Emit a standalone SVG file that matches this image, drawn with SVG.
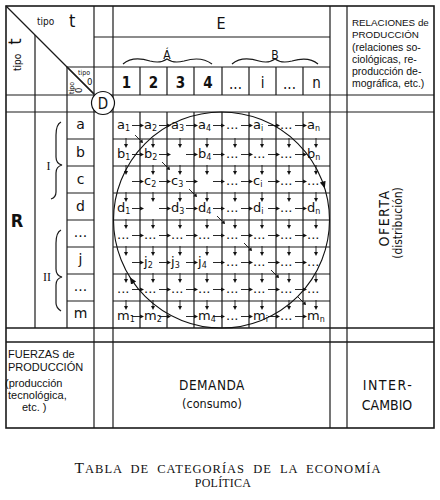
<svg xmlns="http://www.w3.org/2000/svg" xmlns:xlink="http://www.w3.org/1999/xlink" width="440" height="500" viewBox="0 0 440 500">
<style>
.ln{stroke:#1a1a1a;stroke-width:1.2;fill:none}
.ol{stroke:#1a1a1a;stroke-width:1.6;fill:none}
.t{font-family:"DejaVu Sans Condensed","DejaVu Sans",sans-serif;fill:#111}
.h{font-family:"Liberation Sans",Arial,sans-serif;fill:#111;font-size:10.5px}
.m{font-family:"DejaVu Sans","Liberation Sans",sans-serif;fill:#111;font-size:13px}
.s{font-size:8px}
.cap{font-family:"Liberation Serif","Times New Roman",serif;fill:#111}
</style>
<defs>
<g id="ra"><line x1="0" y1="0" x2="9" y2="0" stroke="#111" stroke-width="0.9"/><path d="M8,-2 L12,0 L8,2z" fill="#111"/></g>
<g id="da"><line x1="0" y1="0" x2="0" y2="7" stroke="#111" stroke-width="0.9"/><path d="M-2,6 L0,10 L2,6z" fill="#111"/></g>
<g id="dg"><line x1="0" y1="0" x2="5.5" y2="5.5" stroke="#111" stroke-width="0.9"/><path d="M4.2,7.3 L8,8 L7.3,4.2z" fill="#111"/></g>
<marker id="ch" markerWidth="8" markerHeight="8" refX="7" refY="4" orient="auto" markerUnits="userSpaceOnUse"><path d="M0,1 L7,4 L0,7z" fill="#111"/></marker>
</defs>

<g id="grid">
<rect class="ol" x="6" y="6" width="428" height="422"/>
<line class="ln" x1="6" y1="6" x2="94" y2="94"/>
<line class="ln" x1="94" y1="6" x2="94" y2="428"/>
<line class="ln" x1="113" y1="6" x2="113" y2="428"/>
<line class="ln" x1="330" y1="6" x2="330" y2="428"/>
<line class="ln" x1="347" y1="6" x2="347" y2="428"/>
<line class="ln" x1="35" y1="35" x2="35" y2="328"/>
<line class="ln" x1="67" y1="67" x2="67" y2="328"/>
<line class="ln" x1="94" y1="37" x2="330" y2="37"/>
<line class="ln" x1="67" y1="67" x2="330" y2="67"/>
<line class="ln" x1="6" y1="95" x2="434" y2="95"/>
<line class="ln" x1="6" y1="112" x2="434" y2="112"/>
<line class="ol" x1="6" y1="328" x2="434" y2="328"/>
<line class="ol" x1="6" y1="342" x2="434" y2="342"/>
<path class="ln" d="M140,67V95M167,67V95M194,67V95M222,67V95M249,67V95M276,67V95M303,67V95"/>
<path class="ln" d="M140,112V328M167,112V328M194,112V328M222,112V328M249,112V328M276,112V328M303,112V328"/>
<path class="ln" d="M67,139H94M67,166H94M67,193H94M67,220H94M67,247H94M67,274H94M67,301H94"/>
<path class="ln" d="M113,139H330M113,166H330M113,193H330M113,220H330M113,247H330M113,274H330M113,301H330"/>
</g>

<g id="tipo-t">
<text class="t" x="37" y="25" font-size="10">tipo</text>
<text class="t" x="69" y="27" font-size="18">t</text>
<text class="t" transform="translate(21,71) rotate(-90)" font-size="10">tipo<tspan font-size="18" dx="9">t</tspan></text>
</g>
<g id="tipo-0">
<line class="ln" x1="67" y1="67" x2="94" y2="94"/>
<text class="t" x="78" y="75" font-size="7">tipo</text>
<text class="t" x="87" y="85" font-size="9.5">0</text>
<text class="t" transform="translate(74,94) rotate(-90)" font-size="7">tipo</text>
<text class="t" transform="translate(82,93) rotate(-90)" font-size="9.5">0</text>
</g>
<g id="node-D">
<circle cx="103" cy="103" r="11.5" fill="#fff" stroke="#111" stroke-width="1.2"/>
<text class="t" x="103" y="109" font-size="15" text-anchor="middle">D</text>
</g>

<g id="node-E">
<text class="t" x="221" y="29" font-size="16" text-anchor="middle">E</text>
<path class="ln" d="M123,64 C130,58 140,58 150,61 C158,63 163,62 167,59 C171,62 176,63 184,61 C194,58 204,58 212,64"/>
<text class="t" x="167" y="59" font-size="12" text-anchor="middle">Á</text>
<path class="ln" d="M232,64 C239,58 249,58 259,61 C266,63 271,62 275,59 C279,62 284,63 292,61 C302,58 311,58 318,64"/>
<text class="t" x="275" y="59" font-size="12" text-anchor="middle">B</text>
<g class="t" font-size="15" text-anchor="middle">
<text x="126.5" y="88" font-weight="bold">1</text>
<text x="153.5" y="88" font-weight="bold">2</text>
<text x="180.5" y="88" font-weight="bold">3</text>
<text x="208" y="88" font-weight="bold">4</text>
<text x="235.5" y="89">...</text>
<text x="262.5" y="88">i</text>
<text x="289.5" y="89">...</text>
<text x="316.5" y="88">n</text>
</g>
</g>

<g id="node-relaciones" class="h">
<text x="352" y="26" font-size="9.8">RELACIONES de</text>
<text x="352" y="38" font-size="9.8">PRODUCCIÓN</text>
<text x="352" y="51">(relaciones so-</text>
<text x="352" y="63">ciológicas, re-</text>
<text x="352" y="75">producción de-</text>
<text x="352" y="87">mográfica, etc.)</text>
</g>

<g id="node-R">
<text class="t" x="17" y="227" font-size="18" font-weight="bold" text-anchor="middle">R</text>
<text class="cap" x="48.5" y="170" font-size="12" text-anchor="middle">I</text>
<path class="ln" d="M61,122 C57,124 56,128 56,135 L56,157 C56,162 58,164 62,165 C58,166 56,168 56,173 L56,192 C56,196 54,198 51,199"/>
<text class="cap" x="47" y="281" font-size="12" text-anchor="middle">II</text>
<path class="ln" d="M61,230 C57,232 56,236 56,243 L56,269 C56,274 58,276 62,277 C58,278 56,280 56,285 L56,303 C56,307 58,309 61,311"/>
</g>

<g id="row-labels" class="m" text-anchor="middle">
<text x="80.5" y="129" font-size="14">a</text>
<text x="80.5" y="157" font-size="14">b</text>
<text x="80.5" y="184" font-size="14">c</text>
<text x="80.5" y="211" font-size="14">d</text>
<text x="80.5" y="237" font-size="14">...</text>
<text x="80.5" y="264" font-size="14">j</text>
<text x="80.5" y="291" font-size="14">...</text>
<text x="80.5" y="318" font-size="14">m</text>
</g>

<g id="matrix" class="m">
<text x="117" y="129">a<tspan class="s" dy="2">1</tspan></text>
<text x="144" y="129">a<tspan class="s" dy="2">2</tspan></text>
<text x="171" y="129">a<tspan class="s" dy="2">3</tspan></text>
<text x="198" y="129">a<tspan class="s" dy="2">4</tspan></text>
<text x="226" y="129">...</text>
<text x="253" y="129">a<tspan class="s" dy="2">i</tspan></text>
<text x="280" y="129">...</text>
<text x="307" y="129">a<tspan class="s" dy="2">n</tspan></text>

<text x="117" y="158">b<tspan class="s" dy="2">1</tspan></text>
<text x="144" y="158">b<tspan class="s" dy="2">2</tspan></text>
<text x="198" y="158">b<tspan class="s" dy="2">4</tspan></text>
<text x="226" y="158">...</text>
<text x="253" y="158">...</text>
<text x="280" y="158">...</text>
<text x="307" y="158">b<tspan class="s" dy="2">n</tspan></text>

<text x="144" y="185">c<tspan class="s" dy="2">2</tspan></text>
<text x="171" y="185">c<tspan class="s" dy="2">3</tspan></text>
<text x="226" y="185">...</text>
<text x="253" y="185">c<tspan class="s" dy="2">i</tspan></text>
<text x="280" y="185">...</text>
<text x="307" y="185">...</text>

<text x="117" y="212">d<tspan class="s" dy="2">1</tspan></text>
<text x="171" y="212">d<tspan class="s" dy="2">3</tspan></text>
<text x="198" y="212">d<tspan class="s" dy="2">4</tspan></text>
<text x="226" y="212">...</text>
<text x="253" y="212">d<tspan class="s" dy="2">i</tspan></text>
<text x="280" y="212">...</text>
<text x="307" y="212">d<tspan class="s" dy="2">n</tspan></text>

<text x="117" y="239">...</text>
<text x="144" y="239">...</text>
<text x="171" y="239">...</text>
<text x="198" y="239">...</text>
<text x="226" y="239">...</text>
<text x="253" y="239">...</text>
<text x="280" y="239">...</text>
<text x="307" y="239">...</text>

<text x="144" y="266">j<tspan class="s" dy="2">2</tspan></text>
<text x="171" y="266">j<tspan class="s" dy="2">3</tspan></text>
<text x="198" y="266">j<tspan class="s" dy="2">4</tspan></text>
<text x="226" y="266">...</text>
<text x="253" y="266">...</text>
<text x="280" y="266">...</text>
<text x="307" y="266">...</text>

<text x="117" y="293">...</text>
<text x="144" y="293">...</text>
<text x="171" y="293">...</text>
<text x="198" y="293">...</text>
<text x="226" y="293">...</text>
<text x="253" y="293">...</text>
<text x="280" y="293">...</text>
<text x="307" y="293">...</text>

<text x="117" y="320">m<tspan class="s" dy="2">1</tspan></text>
<text x="144" y="320">m<tspan class="s" dy="2">2</tspan></text>
<text x="198" y="320">m<tspan class="s" dy="2">4</tspan></text>
<text x="226" y="320">...</text>
<text x="253" y="320">m<tspan class="s" dy="2">i</tspan></text>
<text x="280" y="320">...</text>
<text x="307" y="320">m<tspan class="s" dy="2">n</tspan></text>
</g>

<g id="connectors">
<circle cx="221.5" cy="220" r="108" fill="none" stroke="#111" stroke-width="1.1"/>
<path d="M321.6,179.5 A108,108 0 0 1 324.8,188.4" fill="none" stroke="none" marker-end="url(#ch)"/>
<path d="M135.2,285 A108,108 0 0 1 129.9,277.2" fill="none" stroke="none" marker-end="url(#ch)"/>
<g id="r0"><use xlink:href="#ra" x="132" y="125.5"/><use xlink:href="#ra" x="159" y="125.5"/><use xlink:href="#ra" x="186" y="125.5"/><use xlink:href="#ra" x="213" y="125.5"/><use xlink:href="#ra" x="241" y="125.5"/><use xlink:href="#ra" x="268" y="125.5"/><use xlink:href="#ra" x="295" y="125.5"/></g>
<use xlink:href="#r0" y="29"/><use xlink:href="#r0" y="56"/><use xlink:href="#r0" y="83"/><use xlink:href="#r0" y="110"/><use xlink:href="#r0" y="137"/><use xlink:href="#r0" y="164"/><use xlink:href="#r0" y="191"/>
<g id="d1"><use xlink:href="#da" x="126" y="138"/><use xlink:href="#da" x="153" y="138"/><use xlink:href="#da" x="180" y="138"/><use xlink:href="#da" x="207" y="138"/><use xlink:href="#da" x="235" y="138"/><use xlink:href="#da" x="262" y="138"/><use xlink:href="#da" x="289" y="138"/><use xlink:href="#da" x="316" y="138"/></g>
<use xlink:href="#d1" y="27"/><use xlink:href="#d1" y="54"/><use xlink:href="#d1" y="81"/><use xlink:href="#d1" y="108"/><use xlink:href="#d1" y="135"/><use xlink:href="#d1" y="162"/>
<use xlink:href="#dg" x="135" y="135"/><use xlink:href="#dg" x="162" y="162"/><use xlink:href="#dg" x="189" y="189"/><use xlink:href="#dg" x="217" y="216"/><use xlink:href="#dg" x="244" y="243"/><use xlink:href="#dg" x="271" y="270"/><use xlink:href="#dg" x="298" y="297"/>
</g>

<g id="node-oferta" class="t" text-anchor="middle">
<text transform="translate(389,218) rotate(-90)" font-size="14" letter-spacing="1.5">OFERTA</text>
<text transform="translate(402,223) rotate(-90)" font-size="12">(distribución)</text>
</g>

<g id="node-fuerzas" class="h">
<text x="8" y="358" font-size="11">FUERZAS  de</text>
<text x="8" y="371" font-size="11">PRODUCCIÓN</text>
<text x="5" y="387" font-size="11">(producción</text>
<text x="8" y="399" font-size="11">tecnológica,</text>
<text x="22" y="411" font-size="11">etc. )</text>
</g>

<g id="node-demanda" class="t" text-anchor="middle">
<text x="212" y="390" font-size="13.5" letter-spacing="0.5">DEMANDA</text>
<text x="212" y="408" font-size="12.5">(consumo)</text>
</g>

<g id="node-intercambio" class="t" text-anchor="middle">
<text x="388" y="390" font-size="14" letter-spacing="1.5">INTER-</text>
<text x="387" y="410" font-size="14">CAMBIO</text>
</g>

<g id="caption" class="cap" text-anchor="middle">
<text x="228" y="473" font-size="12.5" letter-spacing="1" word-spacing="4"><tspan font-size="15.5">T</tspan>ABLA DE CATEGORÍAS DE LA ECONOMÍA</text>
<text x="223" y="487" font-size="12" letter-spacing="0.2">POLÍTICA</text>
</g>
</svg>
